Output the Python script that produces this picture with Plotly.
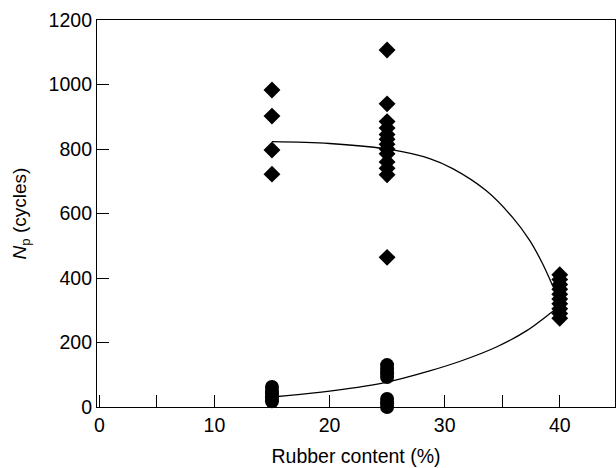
import plotly.graph_objects as go

# Data
dia_x15 = [983, 902, 797, 722]
dia_x25 = [1107, 940, 885, 865, 845, 830, 815, 800, 785, 760, 740, 720, 464]
dia_x40 = [410, 395, 380, 365, 350, 335, 320, 305, 290, 275]
cir_x15 = [62, 50, 40, 30, 18]
cir_x25 = [130, 118, 105, 93, 25, 12, 0]

upper_x = [15, 20, 25.5, 28.7, 30.7, 33.6, 35.9, 37.4, 38.5, 39.3, 39.5]
upper_y = [823, 817, 797, 770, 739, 671, 588, 516, 445, 383, 368]
lower_x = [15, 19.3, 24.6, 28.7, 31.6, 34.5, 37.1, 39.3, 39.6]
lower_y = [31, 46, 74, 112, 145, 186, 236, 294, 302]

dx = [15]*len(dia_x15) + [25]*len(dia_x25) + [40]*len(dia_x40)
dy = dia_x15 + dia_x25 + dia_x40
cx = [15]*len(cir_x15) + [25]*len(cir_x25)
cy = cir_x15 + cir_x25

fig = go.Figure()
fig.add_trace(go.Scatter(x=upper_x, y=upper_y, mode="lines", line=dict(color="black", width=1.3, shape="spline"), showlegend=False))
fig.add_trace(go.Scatter(x=lower_x, y=lower_y, mode="lines", line=dict(color="black", width=1.3, shape="spline"), showlegend=False))
fig.add_trace(go.Scatter(x=dx, y=dy, mode="markers", marker=dict(symbol="diamond", size=13, color="black"), showlegend=False, cliponaxis=False))
fig.add_trace(go.Scatter(x=cx, y=cy, mode="markers", marker=dict(symbol="circle", size=14, color="black"), showlegend=False, cliponaxis=False))

font = dict(family="Liberation Sans, Arial, sans-serif", color="black")
fig.update_layout(
    width=616, height=468,
    margin=dict(l=97, r=1, t=20, b=61),
    plot_bgcolor="white", paper_bgcolor="white",
    font=dict(size=19, **font),
)
fig.update_xaxes(
    range=[-0.2, 44.8], tickvals=[0, 10, 20, 30, 40],
    ticks="inside", ticklen=12, tickwidth=1, tickcolor="black",
    minor=dict(tickvals=[5, 15, 25, 35], ticks="inside", ticklen=12, tickwidth=1, tickcolor="black"),
    showline=True, linecolor="black", linewidth=1.2, mirror=True,
    showgrid=False, zeroline=False,
    tickfont=dict(size=19.5),
    title=dict(text="Rubber content (%)", font=dict(size=19.5), standoff=14),
)
fig.update_yaxes(
    range=[0, 1200], tickvals=[0, 200, 400, 600, 800, 1000, 1200],
    ticks="inside", ticklen=12, tickwidth=1, tickcolor="black",
    showline=True, linecolor="black", linewidth=1.2, mirror=True,
    showgrid=False, zeroline=False,
    tickfont=dict(size=19.5),
    title=dict(text="<i>N</i><sub>p</sub> (cycles)", font=dict(size=19), standoff=16),
)
fig.write_html("out.html")
